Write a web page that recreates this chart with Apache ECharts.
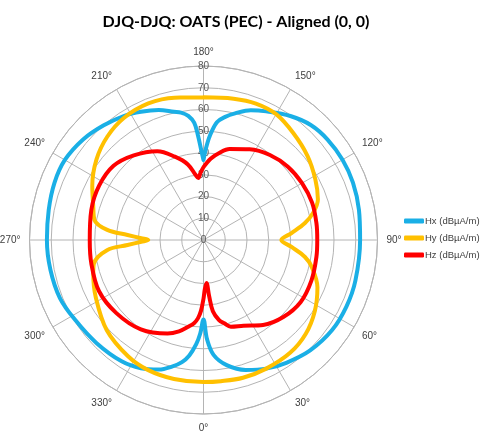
<!DOCTYPE html>
<html>
<head>
<meta charset="utf-8">
<script src="https://cdn.jsdelivr.net/npm/echarts@6/dist/echarts.min.js"></script>
<style>
  html, body { margin: 0; padding: 0; background: #ffffff; }
  #chart { width: 481px; height: 436px; }
</style>
</head>
<body>
<div id="chart"></div>
<script>
// Field pattern: angle in degrees (0..360) and field level in dBµA/m
const titleText = 'DJQ-DJQ: OATS (PEC) - Aligned (0, 0)';
const seriesNames = ['Hx (dBµA/m)', 'Hy (dBµA/m)', 'Hz (dBµA/m)'];
const seriesColors = ['#1AAFE6', '#FFC000', '#FF0000'];
const radiusTicks = [0, 10, 20, 30, 40, 50, 60, 70, 80];

const hxAngles = [0, 2, 5, 10.5, 18, 26, 34, 44, 55, 65, 75, 90, 101, 111, 120, 129, 137, 145, 154, 160, 166, 170, 173.5, 176.5, 178.5, 180, 181.5, 183, 184.5, 187, 190, 193, 199, 206, 212.5, 221, 230, 240, 249, 259, 270, 281, 292, 302, 314, 326, 334, 341, 346, 350, 353, 356, 358];
const hxValues = [36.5, 45.5, 53, 58.5, 62.8, 65.8, 68.1, 70.6, 72.2, 72.5, 72.3, 72, 72.8, 73.6, 73.8, 73.4, 72.3, 69.6, 65.8, 63.5, 60, 57.5, 54.5, 48, 42, 36.8, 41.5, 48, 54, 57.5, 59.5, 60.5, 63.2, 65.6, 67.7, 69.9, 72.1, 73.6, 73.4, 72.5, 72, 71.7, 71.2, 69.5, 68.3, 67.3, 65.6, 63, 60, 57, 53.5, 48, 43];

const hyAngles = [0, 7, 16, 26, 37.5, 47.5, 57.5, 67.5, 76, 80.5, 85.5, 90, 94.5, 99.5, 104, 109.5, 118.5, 129, 140, 150, 159, 168, 180, 191.5, 202, 213, 223, 233, 244, 253, 259.5, 264, 266.2, 268.4, 270, 271.6, 273.8, 276, 282.3, 287, 298, 313, 327, 337, 348];
const hyValues = [65.3, 65.4, 65.9, 65.8, 65.4, 63.8, 60.7, 56.7, 51.3, 47.3, 40.6, 35.8, 40.6, 47.3, 52, 55.8, 58.5, 61.5, 64.2, 66.8, 67.2, 66.4, 65.6, 66.8, 67.7, 67, 64.9, 61.6, 56.9, 53, 51, 44.5, 35, 28.6, 25.4, 28.6, 35, 44.6, 51.6, 53, 56.1, 60.8, 63.7, 65, 65.3];

const hzAngles = [0, 1.6, 4, 5.7, 7.5, 11, 14, 17.5, 25, 35, 46, 57.5, 69.5, 81.5, 90, 98.5, 109, 120, 131, 142, 153, 164, 170, 175, 180, 182.5, 184.8, 187, 191.7, 199, 207.5, 219.5, 230.5, 242.5, 255, 270, 282, 296, 310, 325, 339, 345, 350, 353.5, 356, 358];
const hzValues = [27, 22.5, 19.8, 25.7, 33, 37.5, 39.5, 41.8, 43.5, 47.7, 51, 53, 53, 52.5, 52.3, 52.5, 52.8, 52.3, 51.4, 49.6, 46.8, 43.5, 40.5, 37.5, 33.5, 31, 28.6, 30.2, 35.5, 40.5, 46, 50.4, 53.6, 54.1, 53.4, 52.3, 52.7, 53.5, 52.3, 50.2, 46.1, 43.5, 40.5, 38.5, 36, 32.5];

// The angle axis runs from -180 to 180 so that 180° sits at the top,
// where the radial scale is drawn. Build closed [radius, angle] loops.
function toLoop(angles, values) {
  const pts = angles.map((a, i) => [values[i], a > 180 ? a - 360 : a]);
  pts.sort((p, q) => p[1] - q[1]);
  const top = pts.find(p => p[1] === 180);
  pts.unshift([top[0], -180]);
  return pts;
}

const loops = [toLoop(hxAngles, hxValues), toLoop(hyAngles, hyValues), toLoop(hzAngles, hzValues)];

const gridColor = '#b4b4b4';
const chart = echarts.init(document.getElementById('chart'), null, { renderer: 'canvas' });

chart.setOption({
  animation: false,
  backgroundColor: '#ffffff',
  title: {
    text: titleText,
    left: 231,
    top: 9,
    textAlign: 'center',
    textStyle: { fontFamily: 'Lato', fontWeight: 'bold', fontSize: 16, color: '#000000' }
  },
  legend: {
    orient: 'vertical',
    left: 404,
    top: 216,
    padding: 0,
    itemGap: 7,
    itemWidth: 20,
    itemHeight: 5,
    icon: 'roundRect',
    data: seriesNames,
    textStyle: { fontFamily: 'Liberation Sans', fontSize: 9.5, color: '#404040', padding: [0, 0, 0, -4] }
  },
  polar: { center: [203.5, 240], radius: 174 },
  angleAxis: {
    type: 'value',
    min: -180,
    max: 180,
    interval: 30,
    startAngle: 90,
    clockwise: false,
    axisLine: { lineStyle: { color: gridColor, width: 1 } },
    axisTick: { show: false },
    splitLine: { show: true, lineStyle: { color: gridColor, width: 1 } },
    axisLabel: {
      margin: 9,
      fontFamily: 'Liberation Sans',
      fontSize: 10,
      color: '#404040',
      formatter: v => (v === 180 ? '' : ((v + 360) % 360) + '°')
    }
  },
  radiusAxis: {
    type: 'value',
    min: radiusTicks[0],
    max: radiusTicks[radiusTicks.length - 1],
    interval: radiusTicks[1] - radiusTicks[0],
    axisLine: { show: false },
    axisTick: { show: false },
    splitLine: { show: true, lineStyle: { color: gridColor, width: 1 } },
    axisLabel: {
      margin: 0,
      align: 'center',
      verticalAlign: 'middle',
      fontFamily: 'Liberation Sans',
      fontSize: 10,
      color: '#595959'
    }
  },
  series: loops.map((data, i) => ({
    name: seriesNames[i],
    type: 'line',
    coordinateSystem: 'polar',
    data: data,
    showSymbol: false,
    smooth: 0.35,
    color: seriesColors[i],
    lineStyle: { color: seriesColors[i], width: 4, cap: 'round', join: 'round' }
  }))
});
</script>
</body>
</html>
